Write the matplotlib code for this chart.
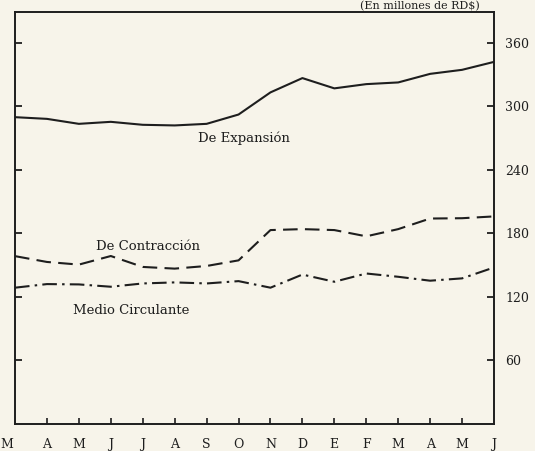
import matplotlib
matplotlib.use('Agg')
import matplotlib.pyplot as plt

# Months (Mar .. Jun of following year)
months = ["M", "A", "M", "J", "J", "A", "S", "O", "N", "D", "E", "F", "M", "A", "M", "J"]

# Values in millones de RD$
expansion = [289.7, 288.1, 283.4, 285.3, 282.5, 281.9, 283.4, 292.2,
             313.1, 326.6, 316.9, 320.9, 322.5, 330.6, 334.4, 341.9]
contraccion = [158.5, 153.0, 150.5, 158.6, 148.3, 146.7, 149.2, 154.5,
               183.1, 184.0, 183.1, 177.2, 184.0, 194.0, 194.3, 196.0]
medio = [128.7, 132.1, 131.8, 129.6, 132.7, 133.7, 132.7, 134.9,
         128.7, 141.1, 134.3, 142.1, 139.0, 135.3, 137.5, 147.8]

y_ticks = [60, 120, 180, 240, 300, 360]

BG = '#f7f4ea'
INK = '#1e1e1e'
FONT = 'DejaVu Serif'

fig = plt.figure(figsize=(5.35, 4.51), dpi=100)
fig.patch.set_facecolor(BG)
ax = fig.add_axes([15 / 535, 1 - 424 / 451, (494 - 15) / 535, (424 - 12) / 451])
ax.set_facecolor(BG)

x = list(range(len(months)))
ax.plot(x, expansion, color=INK, lw=1.5, ls='-')
ax.plot(x, contraccion, color=INK, lw=1.5, dashes=(7, 3.5))
ax.plot(x, medio, color=INK, lw=1.5, dashes=(7, 2.5, 1.2, 2.5))

ax.set_xlim(0, len(months) - 1)
ax.set_ylim(0, 389)

# inward ticks, values on the right only
ax.set_yticks(y_ticks)
ax.tick_params(axis='y', which='both', direction='in', length=5, width=1.3,
               left=True, right=True, labelleft=False, labelright=True,
               labelsize=9, pad=8, colors=INK)
ax.set_xticks(x[1:-1])
ax.tick_params(axis='x', direction='in', length=4, width=1.2, bottom=True,
               labelbottom=False, colors=INK)
for lbl in ax.get_yticklabels():
    lbl.set_family(FONT)
for sp in ax.spines.values():
    sp.set_linewidth(1.4)
    sp.set_color(INK)

# month labels under every position, including the ends
for i, m in enumerate(months):
    xi = i - 0.25 if i == 0 else i
    ax.text(xi, -0.035, m, transform=ax.get_xaxis_transform(), ha='center',
            va='top', fontsize=9, family=FONT, color=INK)

ax.text(7.17, 270, "De Expansión", ha='center', va='center', fontsize=9.5,
        family=FONT, color=INK)
ax.text(4.17, 168, "De Contracción", ha='center', va='center', fontsize=9.5,
        family=FONT, color=INK)
ax.text(3.64, 107, "Medio Circulante", ha='center', va='center', fontsize=9.5,
        family=FONT, color=INK)

fig.text(480 / 535, 1 - 11 / 451, "(En millones de RD$)", ha='right',
         va='bottom', fontsize=8, family=FONT, color=INK)

fig.savefig("out.png", dpi=100, facecolor=BG)
